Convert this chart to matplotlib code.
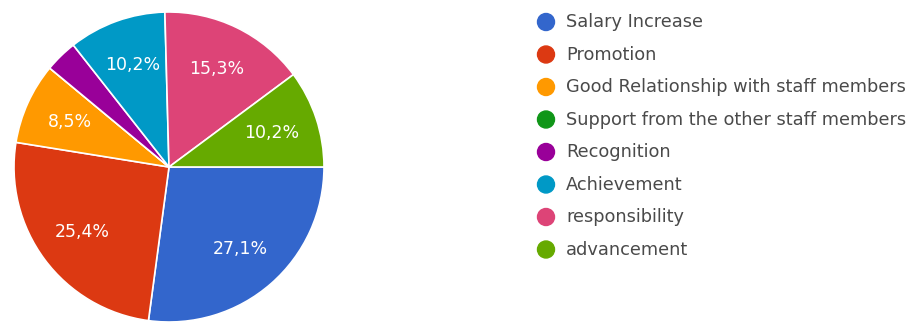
import matplotlib.pyplot as plt
from matplotlib.patches import Circle

# respostas (contagens) por fator de motivação
categorias = [
    "Salary Increase",
    "Promotion",
    "Good Relationship with staff members",
    "Support from the other staff members",
    "Recognition",
    "Achievement",
    "responsibility",
    "advancement",
]
respostas = [16, 15, 5, 0, 2, 6, 9, 6]
cores = ["#3366cc", "#dc3912", "#ff9900", "#109618",
         "#990099", "#0099c6", "#dd4477", "#66aa00"]

plt.rcParams["font.family"] = ["DejaVu Sans"]

fig = plt.figure(figsize=(9.2, 3.22), dpi=100)

# -------- pizza --------
ax = fig.add_axes([14 / 920, 0, 310 / 920, 310 / 322])


def rotulo(pct):
    # fatias pequenas ficam sem texto
    if pct < 5:
        return ""
    return f"{pct:.1f}%".replace(".", ",")


ax.pie(respostas, colors=cores, startangle=0, counterclock=False,
       autopct=rotulo, pctdistance=0.7,
       wedgeprops={"edgecolor": "white", "linewidth": 1.2},
       textprops={"color": "white", "fontsize": 12.5})
ax.set_xlim(-1, 1)
ax.set_ylim(-1, 1)
ax.set_aspect("equal")
ax.axis("off")

# -------- legenda --------
leg = fig.add_axes([0, 0, 1, 1])
leg.set_xlim(0, 920)
leg.set_ylim(322, 0)
leg.axis("off")
for i, (nome, cor) in enumerate(zip(categorias, cores)):
    y = 22 + i * 32.5
    leg.add_patch(Circle((546, y), 8.5, color=cor))
    leg.text(566, y, nome, va="center", ha="left", fontsize=12.8, color="#4a4a4a")

fig.savefig("out.png", dpi=100)
